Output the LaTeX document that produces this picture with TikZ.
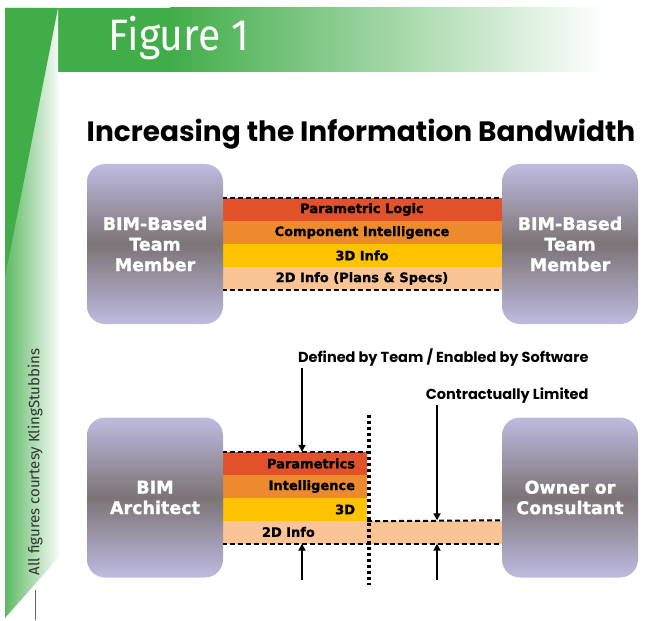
\documentclass[tikz,border=0pt]{standalone}
\usepackage{fontspec}
\usepackage{graphicx}
\usepackage{tikz}
\usetikzlibrary{arrows.meta}
\newfontfamily\boxfont{DejaVu Sans}[BoldFeatures={FakeBold=1.2}]
\newfontfamily\headfont{Fira Sans}
\newfontfamily\titlefont{Poppins}
\definecolor{figGreen}{RGB}{65, 173, 73}
\definecolor{boxLav}{RGB}{190, 187, 224}
\definecolor{boxGray}{RGB}{124, 116, 118}
\definecolor{bandPar}{RGB}{225, 82, 42}
\definecolor{bandInt}{RGB}{238, 138, 46}
\definecolor{bandThree}{RGB}{253, 195, 0}
\definecolor{bandTwo}{RGB}{251, 196, 148}

\begin{document}
\begin{tikzpicture}[x=1pt, y=-1pt,
  member/.style={rounded corners=18pt, minimum width=136pt, minimum height=160pt, inner sep=0pt,
    top color=boxLav, bottom color=boxLav, middle color=boxGray, text=white, align=center,
    font=\boxfont\bfseries\fontsize{17.5}{20.5}\selectfont},
  band/.style={minimum width=280pt, minimum height=23pt, inner sep=0pt,
    font=\boxfont\bfseries\fontsize{13}{13}\selectfont},
  bandR/.style={text width=121pt, inner xsep=12pt, inner ysep=0pt, minimum height=23pt, align=right,
    font=\boxfont\bfseries\fontsize{13}{13}\selectfont},
  dashline/.style={line width=2pt, dash pattern=on 5pt off 3pt},
  arr/.style={line width=2pt, -{Triangle[length=7pt,width=7pt]}},
  note/.style={anchor=east, font=\titlefont\bfseries\fontsize{14.5}{15}\selectfont}]
  \useasboundingbox (0,0) rectangle (652,620);
  % header and side strip
  \fill[figGreen] (58,8) rectangle (170,72);
  \shade[left color=figGreen, right color=white] (170,8) rectangle (605,72);
  \shade[left color=figGreen!85, right color=figGreen!4] (5,8) -- (58,8) -- (59,557) -- (5,618) -- cycle;
  \fill[figGreen] (5,8) -- (58,8) -- (5,277) -- cycle;
  \draw[black!60, line width=1pt] (35,590) -- (35,620);
  \node[white, font=\headfont\fontsize{44}{44}\selectfont] (figLbl) at (179,38) {\scalebox{0.93}[1]{Figure 1}};
  \node[rotate=90, text=black!80, font=\headfont\fontsize{15}{15}\selectfont] (credit) at (35,462) {All figures courtesy KlingStubbins};
  \node[font=\titlefont\bfseries\fontsize{28}{28}\selectfont] (title) at (361,134) {Increasing the Information Bandwidth};
  % upper exchange
  \node[band, fill=bandPar] (tPar) at (362,209.5) {Parametric Logic};
  \node[band, fill=bandInt] (tInt) at (362,232.5) {Component Intelligence};
  \node[band, fill=bandThree] (tThree) at (362,255.5) {3D Info};
  \node[band, fill=bandTwo] (tTwo) at (362,278.5) {2D Info (Plans \& Specs)};
  \draw[dashline] (tPar.north west) -- (tPar.north east);
  \draw[dashline] (tTwo.south west) -- (tTwo.south east);
  \node[member] (leftTop) at (155,244) {BIM-Based\\Team\\Member};
  \node[member] (rightTop) at (570,244) {BIM-Based\\Team\\Member};
  % lower exchange
  \node[bandR, fill=bandPar] (bPar) at (294.5,463.5) {Parametrics};
  \node[bandR, fill=bandInt] (bInt) at (294.5,486.5) {Intelligence};
  \node[bandR, fill=bandThree] (bThree) at (294.5,509.5) {3D};
  \node[band, fill=bandTwo, text width=200pt, inner xsep=40pt, minimum width=280pt, align=left] (bTwo) at (362,532) {2D Info};
  \draw[dashline] (bPar.north west) -- (bPar.north east);
  \draw[dashline] (bThree.south east) -- (bTwo.north east);
  \draw[dashline] (bTwo.south west) -- (bTwo.south east);
  \coordinate (dotTop) at (369,415);
  \coordinate (dotBot) at (369,585);
  \draw[line width=3.5pt, dash pattern=on 3pt off 3pt] (dotTop) -- (dotBot);
  \node[member] (architect) at (155,497.5) {BIM\\Architect};
  \node[member] (owner) at (570,497.5) {Owner or\\Consultant};
  % notes and arrows
  \node[note] (teamNote) at (592,358) {Defined by Team / Enabled by Software};
  \node[note] (contractNote) at (592,396) {Contractually Limited};
  \coordinate (teamTail) at (302,368);
  \coordinate (contractTail) at (437,405);
  \coordinate (leftFoot) at (302,580);
  \coordinate (rightFoot) at (437,580);
  \draw[arr] (teamTail) -- (teamTail |- bPar.north);
  \draw[arr] (contractTail) -- (contractTail |- bTwo.north);
  \draw[arr] (leftFoot) -- (leftFoot |- bTwo.south);
  \draw[arr] (rightFoot) -- (rightFoot |- bTwo.south);
\end{tikzpicture}
\end{document}
